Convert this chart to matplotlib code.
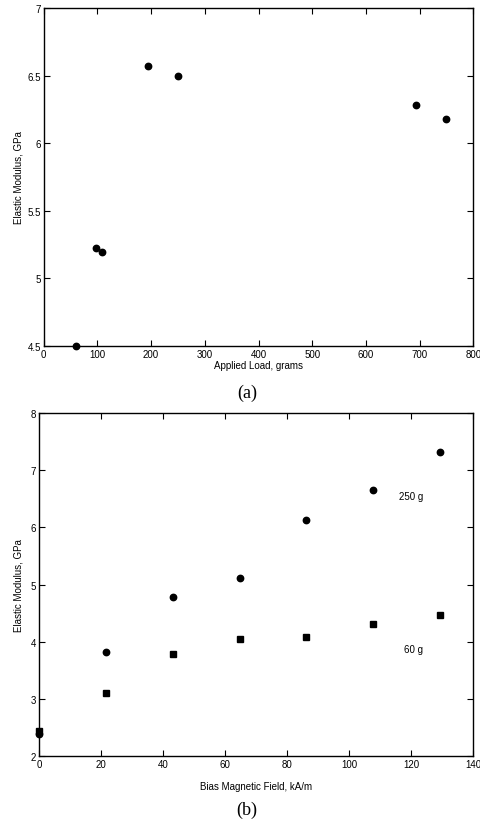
import matplotlib
matplotlib.use("Agg")
import matplotlib.pyplot as plt
from matplotlib.ticker import FuncFormatter

plt.rcParams['font.family'] = ['Liberation Sans', 'DejaVu Sans']

# Panel (a)
load_g = [60, 97, 109, 195, 250, 694, 750]
modulus_a = [4.50, 5.227, 5.193, 6.571, 6.497, 6.283, 6.177]
xticks_a = [0, 100, 200, 300, 400, 500, 600, 700, 800]
yticks_a = [4.5, 5, 5.5, 6, 6.5, 7]

# Panel (b)
field_kAm = [0, 21.5, 43.1, 64.7, 86.2, 107.8, 129.3]
modulus_250g = [2.38, 3.82, 4.78, 5.12, 6.12, 6.65, 7.32]
modulus_60g = [2.44, 3.10, 3.78, 4.05, 4.09, 4.31, 4.47]
xticks_b = [0, 20, 40, 60, 80, 100, 120, 140]
yticks_b = [2, 3, 4, 5, 6, 7, 8]

W, H = 480, 828
fig = plt.figure(figsize=(W / 100, H / 100), dpi=100)

def style(ax):
    ax.tick_params(direction='in', length=4, width=0.8, top=True, right=True,
                   labelsize=7, pad=2, colors='black')
    for s in ax.spines.values():
        s.set_linewidth(1.0)
    ax.yaxis.set_major_formatter(FuncFormatter(lambda v, p: '%g' % v))
    ax.xaxis.set_major_formatter(FuncFormatter(lambda v, p: '%g' % v))

ax1 = fig.add_axes([43.7 / W, (H - 347) / H, (473.3 - 43.7) / W, 338 / H])
ax1.plot(load_g, modulus_a, 'o', color='black', markersize=4.6, clip_on=False, zorder=5)
ax1.set_xlim(0, 800)
ax1.set_ylim(4.5, 7)
ax1.set_xticks(xticks_a)
ax1.set_yticks(yticks_a)
style(ax1)
ax1.set_xlabel('Applied Load, grams', fontsize=7, labelpad=1)
ax1.set_ylabel('Elastic Modulus, GPa', fontsize=7, labelpad=2.5)
fig.text(247 / W, 1 - 393 / H, '(a)', family='Liberation Serif', fontsize=13,
         ha='center', va='center')

ax2 = fig.add_axes([39 / W, (H - 757) / H, (473.3 - 39) / W, 343 / H])
ax2.plot(field_kAm, modulus_250g, 'o', color='black', markersize=4.6, clip_on=False, zorder=5)
ax2.plot(field_kAm, modulus_60g, 's', color='black', markersize=4.0, clip_on=False, zorder=5)
ax2.set_xlim(0, 140)
ax2.set_ylim(2, 8)
ax2.set_xticks(xticks_b)
ax2.set_yticks(yticks_b)
style(ax2)
ax2.text(120.1, 6.54, '250 g', fontsize=7, ha='center', va='center')
ax2.text(120.7, 3.87, '60 g', fontsize=7, ha='center', va='center')
ax2.set_xlabel('Bias Magnetic Field, kA/m', fontsize=7, labelpad=9)
ax2.set_ylabel('Elastic Modulus, GPa', fontsize=7, labelpad=5)
fig.text(247 / W, 1 - 810 / H, '(b)', family='Liberation Serif', fontsize=13,
         ha='center', va='center')

fig.savefig('out.png', dpi=100)
